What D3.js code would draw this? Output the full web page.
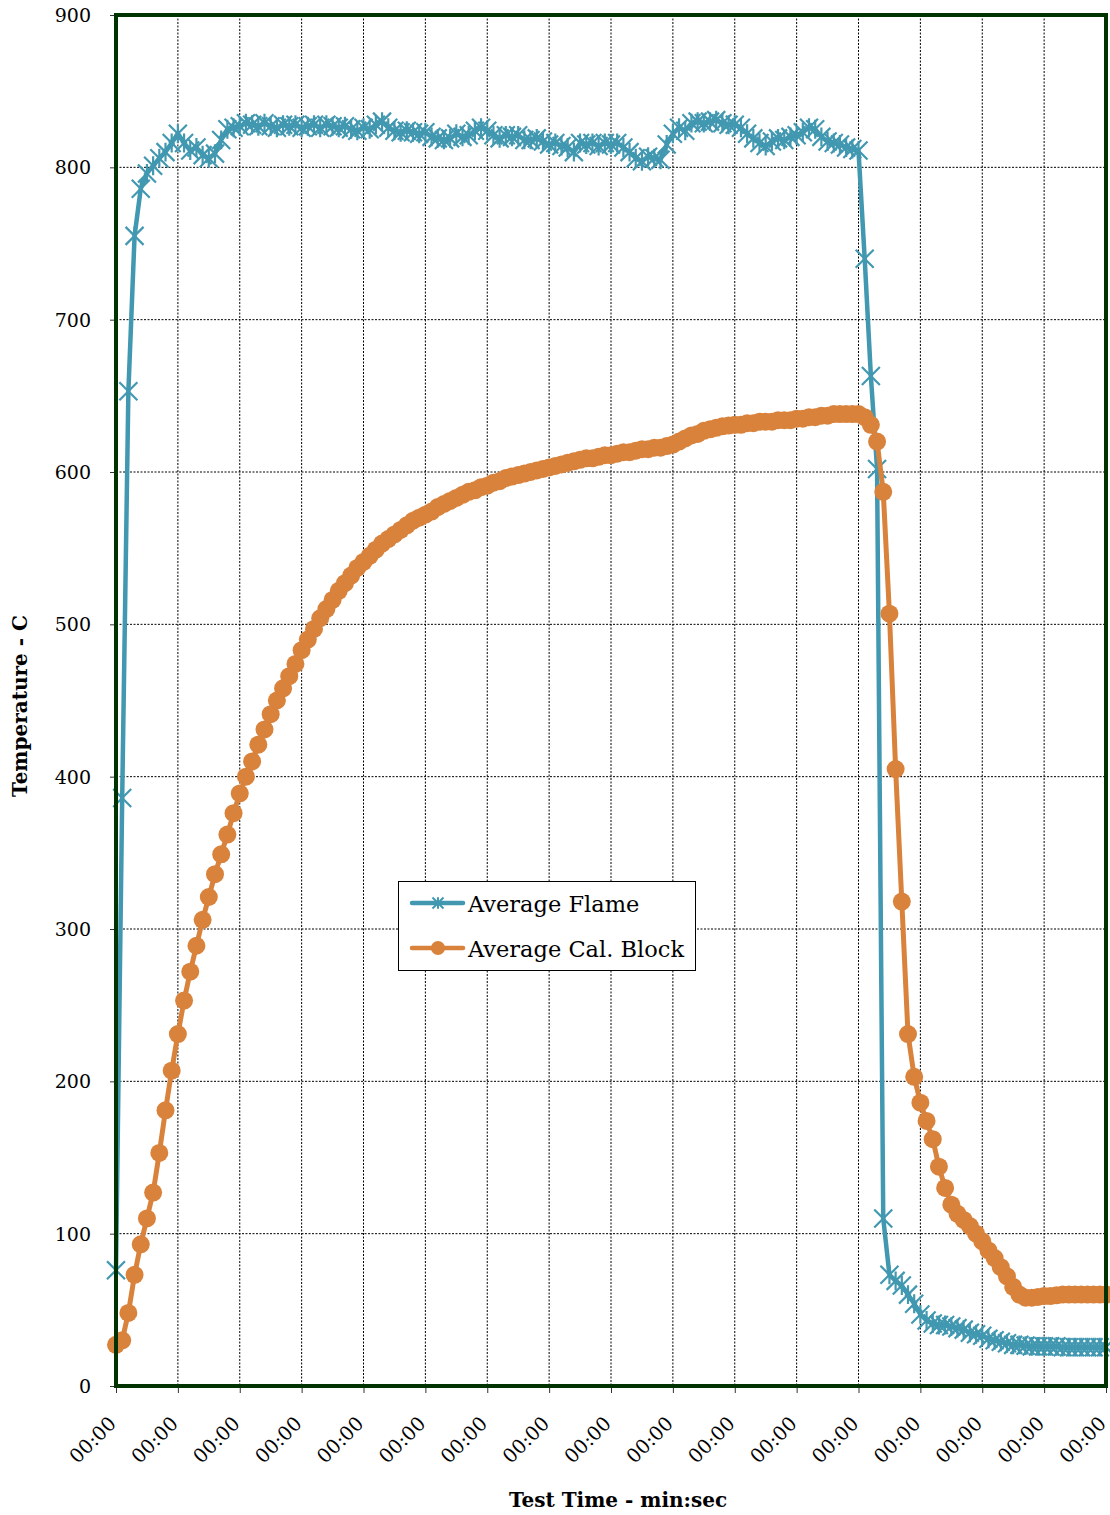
<!DOCTYPE html>
<html>
<head>
<meta charset="utf-8">
<script src="https://cdn.jsdelivr.net/npm/d3@7"></script>
<style>
  html, body { margin: 0; padding: 0; background: #fff; }
  svg text { font-family: "DejaVu Serif", serif; fill: #000; }
</style>
</head>
<body>
<div id="chart"></div>
<script>
// ---- Data (logger samples, one every 0.1 axis unit)
const sampleStep = 0.1;

const flameTemps = [
  76, 386, 653, 755, 786, 796, 801, 806, 810, 816,
  822, 816, 811, 813, 808, 806, 809, 818, 825, 826,
  827, 829, 828, 827, 829, 827, 826, 828, 827, 828,
  826, 827, 828, 826, 828, 827, 826, 827, 825, 824,
  826, 825, 828, 830, 826, 824, 823, 824, 823, 822,
  823, 820, 819, 818, 819, 822, 820, 821, 824, 826,
  824, 821, 819, 821, 820, 821, 818, 818, 819, 817,
  815, 816, 814, 813, 810, 816, 815, 816, 814, 816,
  815, 816, 813, 810, 806, 804, 807, 806, 805, 815,
  822, 826, 824, 829, 830, 829, 830, 831, 829, 828,
  828, 826, 822, 819, 816, 814, 817, 819, 818, 820,
  821, 823, 826, 825, 820, 817, 816, 815, 813, 812,
  811, 740, 663, 602, 110, 73, 69, 66, 60, 54,
  47, 43, 41, 40, 40, 39, 38, 37, 35, 34,
  33, 31, 30, 29, 28, 27, 27, 26.5, 26, 26,
  26, 26, 26, 25.5, 25.5, 25.5, 25.5, 25.5, 25.5, 25.5,
  25.5
];

const blockTemps = [
  27, 30, 48, 73, 93, 110, 127, 153, 181, 207,
  231, 253, 272, 289, 306, 321, 336, 349, 362, 376,
  389, 400, 410, 421, 431, 441, 450, 458, 466, 474,
  483, 490, 497, 504, 510, 516, 522, 527, 532, 537,
  541, 545, 549, 553, 556, 559, 562, 565, 568, 570,
  572, 574, 577, 579, 581, 583, 585, 587, 588, 590,
  591, 593, 594, 596, 597, 598, 599, 600, 601, 602,
  603, 604, 605, 606, 607, 608, 609, 609, 610, 611,
  611, 612, 613, 613, 614, 615, 615, 616, 616, 617,
  618, 620, 622, 624, 625, 627, 628, 629, 630, 630.5,
  631, 631, 632, 632, 633, 633, 633, 634, 634, 634,
  635, 635, 636, 636, 637, 637, 638, 638, 638, 638,
  638, 636, 631, 620, 587, 507, 405, 318, 231, 203,
  186, 174, 162, 144, 130, 119, 113, 109, 105, 100,
  95, 89, 84, 78, 72, 65, 60, 58, 58, 58.5,
  59, 59, 59.5, 60, 60, 60, 60, 60, 60, 60,
  60
];

const seriesNames = ['Average Flame', 'Average Cal. Block'];
const xTickValues = [0, 1, 2, 3, 4, 5, 6, 7, 8, 9, 10, 11, 12, 13, 14, 15, 16];
const xTickLabels = ['00:00', '00:00', '00:00', '00:00', '00:00', '00:00', '00:00', '00:00', '00:00',
                     '00:00', '00:00', '00:00', '00:00', '00:00', '00:00', '00:00', '00:00'];
const yTickValues = [0, 100, 200, 300, 400, 500, 600, 700, 800, 900];
const axisTitles = ['Test Time - min:sec', 'Temperature - C'];

// ---- Layout
const W = 1110, H = 1515;
const margins = { left: 116, right: 4, top: 15, bottom: 129 };
const width  = W - margins.left - margins.right;
const height = H - margins.top  - margins.bottom;

const FLAME = '#4198b0';
const BLOCK = '#d9823b';
const FRAME = '#003300';

const svg = d3.select('#chart').append('svg')
  .attr('width', W).attr('height', H);

const mapX = d3.scaleLinear().domain([0, 16]).range([0, width]);
const mapY = d3.scaleLinear().domain([0, 900]).range([height, 0]);

const g = svg.append('g').attr('transform', `translate(${margins.left},${margins.top})`);

// ---- Grid
g.append('g').selectAll('line').data(yTickValues.slice(1, -1)).join('line')
  .attr('x1', 0).attr('x2', width)
  .attr('y1', d => mapY(d)).attr('y2', d => mapY(d))
  .attr('stroke', '#000').attr('stroke-width', 1).attr('stroke-dasharray', '2,1.5');
g.append('g').selectAll('line').data(xTickValues.slice(1, -1)).join('line')
  .attr('y1', 0).attr('y2', height)
  .attr('x1', d => mapX(d)).attr('x2', d => mapX(d))
  .attr('stroke', '#000').attr('stroke-width', 1).attr('stroke-dasharray', '2,1.5');

// ---- Axes
const xAxis = g.append('g').attr('transform', `translate(0,${height})`)
  .call(d3.axisBottom(mapX).tickValues(xTickValues).tickSize(7).tickSizeOuter(0)
    .tickFormat((d, i) => xTickLabels[i]));
xAxis.select('.domain').remove();
xAxis.selectAll('line').attr('stroke', '#333');
xAxis.selectAll('text')
  .style('font-size', '19.5px')
  .attr('text-anchor', 'end')
  .attr('x', 0).attr('y', 0)
  .attr('dy', '0.35em')
  .attr('transform', 'translate(-4,34) rotate(-45)');

const yAxis = g.append('g')
  .call(d3.axisLeft(mapY).tickValues(yTickValues).tickSize(6).tickSizeOuter(0));
yAxis.select('.domain').remove();
yAxis.selectAll('line').attr('stroke', '#333');
yAxis.selectAll('text').style('font-size', '19px').attr('x', -25).attr('dy', '0.35em');

// ---- Axis titles
svg.append('text')
  .attr('x', 618).attr('y', 1507)
  .attr('text-anchor', 'middle')
  .style('font-size', '20px').style('font-weight', 'bold')
  .text(axisTitles[0]);
svg.append('text')
  .attr('transform', 'translate(27,706) rotate(-90)')
  .attr('text-anchor', 'middle')
  .style('font-size', '20px').style('font-weight', 'bold')
  .text(axisTitles[1]);

// ---- Series
const flameData = flameTemps.map((v, i) => ({ t: i * sampleStep, v }));
const blockData = blockTemps.map((v, i) => ({ t: i * sampleStep, v }));

const line = d3.line().x(d => mapX(d.t)).y(d => mapY(d.v));

const starPath = r => `M${-r},${-r}L${r},${r}M${-r},${r}L${r},${-r}M0,${-r * 1.05}L0,${r * 1.05}`;

const marks = g.append('g');

marks.append('path').datum(flameData)
  .attr('d', line).attr('fill', 'none')
  .attr('stroke', FLAME).attr('stroke-width', 4.5).attr('stroke-linejoin', 'round');
marks.append('g').selectAll('path').data(flameData).join('path')
  .attr('transform', d => `translate(${mapX(d.t)},${mapY(d.v)})`)
  .attr('d', starPath(9))
  .attr('stroke', FLAME).attr('stroke-width', 2.2).attr('fill', 'none');

marks.append('path').datum(blockData)
  .attr('d', line).attr('fill', 'none')
  .attr('stroke', BLOCK).attr('stroke-width', 5).attr('stroke-linejoin', 'round');
marks.append('g').selectAll('circle').data(blockData).join('circle')
  .attr('cx', d => mapX(d.t)).attr('cy', d => mapY(d.v))
  .attr('r', 9).attr('fill', BLOCK);

// ---- Frame
g.append('rect')
  .attr('x', 0).attr('y', 0).attr('width', width).attr('height', height)
  .attr('fill', 'none').attr('stroke', FRAME).attr('stroke-width', 4);

// ---- Legend
const legend = svg.append('g').attr('transform', 'translate(398,881)');
legend.append('rect')
  .attr('x', 0.5).attr('y', 0.5).attr('width', 297).attr('height', 89)
  .attr('fill', '#fff').attr('stroke', '#000').attr('stroke-width', 1);

const legendRows = legend.selectAll('.row').data(seriesNames).join('g')
  .attr('class', 'row')
  .attr('transform', (d, i) => `translate(0,${22 + i * 45})`);
legendRows.append('line')
  .attr('x1', 14).attr('x2', 65)
  .attr('stroke', (d, i) => i === 0 ? FLAME : BLOCK)
  .attr('stroke-width', 4.5).attr('stroke-linecap', 'round');
legendRows.filter((d, i) => i === 0).append('path')
  .attr('transform', 'translate(40,0)')
  .attr('d', starPath(5.5))
  .attr('stroke', FLAME).attr('stroke-width', 2).attr('fill', 'none');
legendRows.filter((d, i) => i === 1).append('circle')
  .attr('cx', 40).attr('r', 7).attr('fill', BLOCK);
legendRows.append('text')
  .attr('x', 70).attr('y', 9)
  .style('font-size', '22.5px')
  .text(d => d);
</script>
</body>
</html>
